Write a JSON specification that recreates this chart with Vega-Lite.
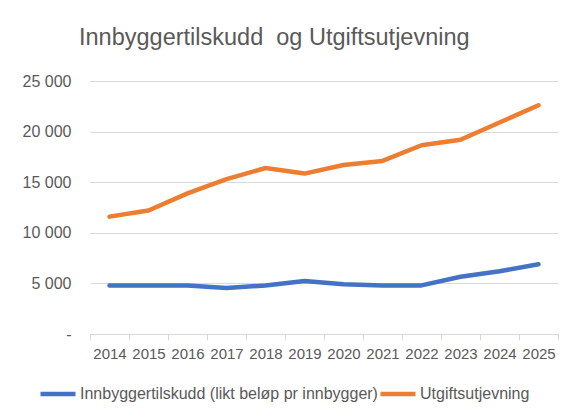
{
  "$schema": "https://vega.github.io/schema/vega-lite/v6.json",
  "width": 468,
  "height": 253,
  "autosize": {"type": "none"},
  "padding": {"left": 90, "top": 81, "right": 16, "bottom": 84},
  "background": "white",
  "title": {
    "text": "Innbyggertilskudd\u00a0 og Utgiftsutjevning",
    "anchor": "start",
    "frame": "group",
    "dx": -11,
    "offset": 24,
    "font": "Liberation Sans",
    "fontSize": 23.5,
    "fontWeight": "normal",
    "color": "#595959"
  },
  "config": {
    "view": {"stroke": null},
    "axis": {"labelFont": "Liberation Sans", "labelColor": "#595959", "labelFontSize": 15}
  },
  "data": {
    "values": [
      {"year": "2014", "serie": "Innbyggertilskudd (likt beløp pr innbygger)", "value": 4800},
      {"year": "2015", "serie": "Innbyggertilskudd (likt beløp pr innbygger)", "value": 4800},
      {"year": "2016", "serie": "Innbyggertilskudd (likt beløp pr innbygger)", "value": 4800},
      {"year": "2017", "serie": "Innbyggertilskudd (likt beløp pr innbygger)", "value": 4550},
      {"year": "2018", "serie": "Innbyggertilskudd (likt beløp pr innbygger)", "value": 4800},
      {"year": "2019", "serie": "Innbyggertilskudd (likt beløp pr innbygger)", "value": 5240},
      {"year": "2020", "serie": "Innbyggertilskudd (likt beløp pr innbygger)", "value": 4920},
      {"year": "2021", "serie": "Innbyggertilskudd (likt beløp pr innbygger)", "value": 4800},
      {"year": "2022", "serie": "Innbyggertilskudd (likt beløp pr innbygger)", "value": 4800},
      {"year": "2023", "serie": "Innbyggertilskudd (likt beløp pr innbygger)", "value": 5660},
      {"year": "2024", "serie": "Innbyggertilskudd (likt beløp pr innbygger)", "value": 6200},
      {"year": "2025", "serie": "Innbyggertilskudd (likt beløp pr innbygger)", "value": 6900},
      {"year": "2014", "serie": "Utgiftsutjevning", "value": 11600},
      {"year": "2015", "serie": "Utgiftsutjevning", "value": 12200},
      {"year": "2016", "serie": "Utgiftsutjevning", "value": 13900},
      {"year": "2017", "serie": "Utgiftsutjevning", "value": 15300},
      {"year": "2018", "serie": "Utgiftsutjevning", "value": 16400},
      {"year": "2019", "serie": "Utgiftsutjevning", "value": 15850},
      {"year": "2020", "serie": "Utgiftsutjevning", "value": 16700},
      {"year": "2021", "serie": "Utgiftsutjevning", "value": 17100},
      {"year": "2022", "serie": "Utgiftsutjevning", "value": 18650},
      {"year": "2023", "serie": "Utgiftsutjevning", "value": 19200},
      {"year": "2024", "serie": "Utgiftsutjevning", "value": 20900},
      {"year": "2025", "serie": "Utgiftsutjevning", "value": 22600}
    ]
  },
  "mark": {"type": "line", "strokeWidth": 4.5, "strokeCap": "round", "strokeJoin": "round"},
  "encoding": {
    "x": {
      "field": "year",
      "type": "ordinal",
      "scale": {"type": "band", "paddingInner": 0, "paddingOuter": 0},
      "axis": {
        "title": null,
        "labelAngle": 0,
        "tickBand": "extent",
        "tickSize": 6,
        "tickColor": "#D9D9D9",
        "domainColor": "#D9D9D9",
        "labelPadding": 6,
        "grid": false
      }
    },
    "y": {
      "field": "value",
      "type": "quantitative",
      "scale": {"domain": [0, 25000], "nice": false},
      "axis": {
        "title": null,
        "values": [0, 5000, 10000, 15000, 20000, 25000],
        "grid": true,
        "gridColor": "#D9D9D9",
        "domain": false,
        "ticks": false,
        "labelPadding": 19,
        "labelFontSize": 16,
        "labelExpr": "datum.value == 0 ? '-\u00a0\u00a0' : replace(format(datum.value, ','), ',', ' ')"
      }
    },
    "color": {
      "field": "serie",
      "type": "nominal",
      "scale": {
        "domain": ["Innbyggertilskudd (likt beløp pr innbygger)", "Utgiftsutjevning"],
        "range": ["#4472C4", "#ED7D31"]
      },
      "legend": {
        "title": null,
        "orient": "none",
        "legendX": -52,
        "legendY": 293,
        "direction": "horizontal",
        "symbolType": "stroke",
        "symbolSize": 1225,
        "symbolStrokeWidth": 4.5,
        "labelFont": "Liberation Sans",
        "labelFontSize": 16,
        "labelColor": "#595959",
        "labelOffset": 2,
        "columnPadding": -20,
        "labelLimit": 400
      }
    }
  }
}
